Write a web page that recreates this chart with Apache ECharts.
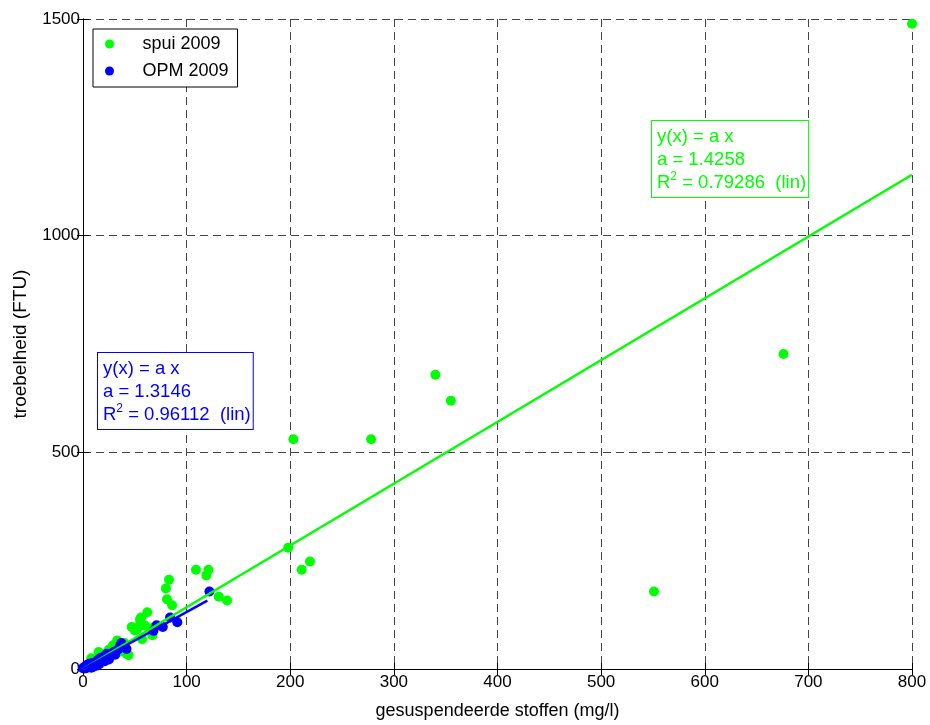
<!DOCTYPE html>
<html>
<head>
<meta charset="utf-8">
<script src="https://cdn.jsdelivr.net/npm/echarts@6/dist/echarts.min.js"></script>
<style>
  html, body { margin: 0; padding: 0; background: #fff; }
  #main { width: 930px; height: 725px; }
</style>
</head>
<body>
<div id="main"></div>
<script>
// meetpunten: [gesuspendeerde stoffen (mg/l), troebelheid (FTU)]
const spui2009 = [
  [800, 1489], [676, 727], [340, 679], [355, 619], [203, 530], [278, 530],
  [551, 179], [198, 280], [211, 229], [219, 248],
  [109, 229], [121, 229], [119, 216], [131, 167], [139, 158],
  [83, 206], [80, 186], [81, 161], [86, 147],
  [62, 131], [55, 115], [50, 89], [57, 69], [67, 78], [47, 97], [42, 35],
  [56, 119], [55, 103], [68, 96], [60, 100], [52, 92],
  [33, 66], [29, 55], [44, 32], [15, 39], [40, 60], [25, 45],
  [20, 30], [10, 15], [8, 25], [5, 10], [18, 20], [12, 8], [30, 50], [35, 40], [22, 35]
];
const opm2009 = [
  [122, 179], [91, 108], [84, 119], [77, 97], [71, 101], [68, 88],
  [42, 46], [37, 60], [36, 55], [23, 35], [20, 28], [18, 22], [15, 18],
  [12, 14], [10, 12], [8, 10], [6, 8], [5, 5], [4, 4], [3, 2], [2, 3], [1, 1],
  [7, 6], [9, 14], [11, 9], [14, 20], [16, 12], [19, 25], [21, 18], [24, 30],
  [26, 28], [28, 36], [30, 40], [13, 16], [17, 26], [3, 7], [6, 12], [4, 10],
  [2, 5], [25, 22], [31, 33], [34, 45], [1, 4], [0, 2], [8, 3], [10, 5], [14, 8]
];
// fitlijnen y = a x
const spuiFit = [[0, 0], [800, 1140.6]];
const opmFit = [[0, 0], [120, 157.8]];
const spuiText = ['y(x) = a x', 'a = 1.4258', '0.79286'];
const opmText = ['y(x) = a x', 'a = 1.3146', '0.96112'];
const seriesNames = ['spui 2009', 'OPM 2009'];

const FONT = 'Liberation Sans, Arial, sans-serif';
const GREEN = '#00ff00';
const BLUE = '#0000ff';

function fitLabel(lines, color, left, top) {
  return {
    type: 'text',
    left: left,
    top: top,
    z: 100,
    style: {
      text: '{n|' + lines[0] + '}\n{n|' + lines[1] + '}\n{n|R}{s|2}{n| = ' + lines[2] + '  (lin)}',
      fill: color,
      font: '18px ' + FONT,
      backgroundColor: '#fff',
      borderColor: color,
      borderWidth: 1,
      padding: [4, 2, 3, 5],
      rich: {
        n: { fontSize: 18.5, fontFamily: FONT, color: color, lineHeight: 23 },
        s: { fontSize: 12, fontFamily: FONT, color: color, lineHeight: 23, verticalAlign: 'top', padding: [0, 0, 10, 0] }
      }
    }
  };
}

const axisCommon = {
  axisLine: { show: true, lineStyle: { color: '#000', width: 1 } },
  axisTick: { show: true, inside: true, length: 6, lineStyle: { color: '#000' } },
  axisLabel: { color: '#000', fontSize: 17, fontFamily: FONT, formatter: v => String(v) },
  nameTextStyle: { color: '#000', fontSize: 18, fontFamily: FONT }
};
const gridLine = { show: true, lineStyle: { color: '#444', type: [8, 5], width: 1 } };

const option = {
  animation: false,
  backgroundColor: '#fff',
  grid: { left: 83, top: 19, width: 829, height: 653 },
  legend: {
    data: seriesNames,
    orient: 'vertical',
    left: 93,
    top: 29,
    icon: 'circle',
    itemWidth: 56,
    itemHeight: 9,
    itemGap: 9,
    padding: [6, 9, 7, 12],
    backgroundColor: '#fff',
    borderColor: '#000',
    borderWidth: 1,
    textStyle: { color: '#000', fontSize: 18, lineHeight: 18, fontFamily: FONT }
  },
  xAxis: [
    Object.assign({}, axisCommon, {
      type: 'value', min: 0, max: 800, interval: 100,
      name: 'gesuspendeerde stoffen (mg/l)', nameLocation: 'middle', nameGap: 33,
      axisLabel: Object.assign({}, axisCommon.axisLabel, { margin: 5 }),
      splitLine: gridLine
    }),
    Object.assign({}, axisCommon, {
      type: 'value', min: 0, max: 800, interval: 100, position: 'top',
      axisLabel: { show: false }, splitLine: { show: false }
    })
  ],
  yAxis: [
    Object.assign({}, axisCommon, {
      type: 'value', min: 0, max: 1500, interval: 500,
      name: 'troebelheid (FTU)', nameLocation: 'middle', nameGap: 53,
      nameTextStyle: { color: '#000', fontSize: 19, fontFamily: FONT },
      axisLabel: Object.assign({}, axisCommon.axisLabel, { margin: 3 }),
      splitLine: gridLine
    }),
    Object.assign({}, axisCommon, {
      type: 'value', min: 0, max: 1500, interval: 500, position: 'right',
      axisLabel: { show: false }, splitLine: { show: false }
    })
  ],
  series: [
    {
      name: seriesNames[0], type: 'scatter', data: spui2009,
      symbol: 'circle', symbolSize: 10,
      itemStyle: { color: GREEN, opacity: 1 }, z: 2
    },
    {
      name: seriesNames[1], type: 'scatter', data: opm2009,
      symbol: 'circle', symbolSize: 10,
      itemStyle: { color: BLUE, opacity: 1 }, z: 3
    },
    {
      name: 'fit spui', type: 'line', data: spuiFit, showSymbol: false,
      lineStyle: { color: GREEN, width: 2.5 }, z: 4
    },
    {
      name: 'fit OPM', type: 'line', data: opmFit, showSymbol: false,
      lineStyle: { color: BLUE, width: 2.5 }, z: 5
    }
  ],
  graphic: [
    fitLabel(opmText, BLUE, 97, 352),
    fitLabel(spuiText, GREEN, 651, 120)
  ]
};

const myChart = echarts.init(document.getElementById('main'), null, { renderer: 'canvas' });
myChart.setOption(option);
</script>
</body>
</html>
